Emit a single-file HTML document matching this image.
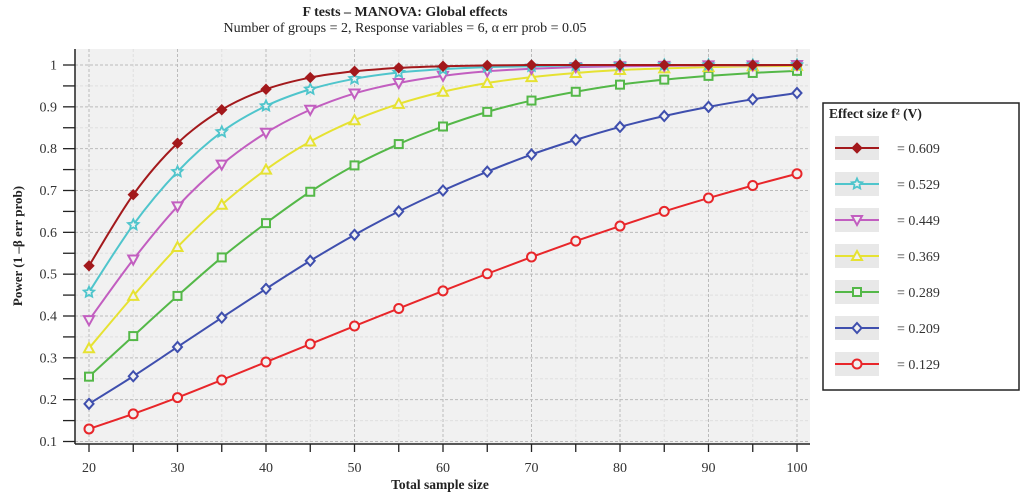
<!DOCTYPE html>
<html><head><meta charset="utf-8"><style>
html,body{margin:0;padding:0;background:#fff;}
svg text{font-family:"Liberation Serif",serif;}
</style></head><body>
<svg id="chart" width="1024" height="498" viewBox="0 0 1024 498" xmlns="http://www.w3.org/2000/svg">
<text x="405" y="16" text-anchor="middle" font-size="14" font-weight="bold" fill="#222">F tests – MANOVA: Global effects</text>
<text x="405" y="32" text-anchor="middle" font-size="14" fill="#222">Number of groups = 2, Response variables = 6, α err prob = 0.05</text>
<rect x="75" y="49" width="735" height="395" fill="#f1f1f1"/>
<g id="grid"></g>
<g id="axes"></g>
<g id="series"></g>
<text transform="translate(22,246) rotate(-90)" text-anchor="middle" font-size="13" font-weight="bold" fill="#222">Power (1 –β err prob)</text>
<text x="440" y="489" text-anchor="middle" font-size="13.5" font-weight="bold" fill="#222">Total sample size</text>
<g>
<rect x="823" y="103" width="196" height="287" fill="#fff" stroke="#222" stroke-width="1.5"/>
<text x="829" y="118" font-size="13.5" font-weight="bold" fill="#222">Effect size f² (V)</text>
<g id="legend"></g>
</g>
</svg>
<script>
const xs=[20,25,30,35,40,45,50,55,60,65,70,75,80,85,90,95,100];
const effectLabels=["= 0.609","= 0.529","= 0.449","= 0.369","= 0.289","= 0.209","= 0.129"];
const s609=[0.52,0.69,0.813,0.893,0.942,0.97,0.985,0.993,0.997,0.999,1,1,1,1,1,1,1];
const s529=[0.457,0.618,0.745,0.84,0.902,0.942,0.967,0.982,0.99,0.995,0.997,0.999,1,1,1,1,1];
const s449=[0.39,0.535,0.662,0.762,0.838,0.893,0.932,0.957,0.974,0.985,0.991,0.995,0.997,0.998,0.999,0.999,1];
const s369=[0.323,0.448,0.565,0.666,0.75,0.817,0.868,0.907,0.936,0.957,0.971,0.981,0.988,0.992,0.995,0.997,0.998];
const s289=[0.255,0.352,0.448,0.54,0.622,0.697,0.76,0.811,0.853,0.888,0.915,0.936,0.953,0.965,0.974,0.981,0.986];
const s209=[0.19,0.256,0.326,0.396,0.465,0.532,0.594,0.65,0.70,0.745,0.786,0.821,0.852,0.878,0.9,0.918,0.933];
const s129=[0.13,0.166,0.205,0.247,0.29,0.333,0.376,0.418,0.46,0.501,0.541,0.579,0.615,0.65,0.682,0.712,0.74];
const yTicks=["0.1","0.2","0.3","0.4","0.5","0.6","0.7","0.8","0.9","1"];
const xTickLabels=["20","30","40","50","60","70","80","90","100"];

const NS="http://www.w3.org/2000/svg";
const X=v=>89+(v-20)*(797-89)/80;
const Y=v=>441.5-(v-0.1)*(441.5-65)/0.9;
function mk(tag,attrs,parent){const e=document.createElementNS(NS,tag);for(const k in attrs)e.setAttribute(k,attrs[k]);parent.appendChild(e);return e;}
const grid=document.getElementById('grid'),axes=document.getElementById('axes'),ser=document.getElementById('series'),leg=document.getElementById('legend');
for(let v=20;v<=100;v+=5){const l=mk('line',{x1:X(v),x2:X(v),y1:49,y2:444,stroke:v%10===0?'#bbb':'#e0e0e0','stroke-dasharray':'3,2','stroke-width':1},grid);

}
for(let i=0;i<=18;i++){const v=0.1+i*0.05;const l=mk('line',{x1:75,x2:810,y1:Y(v),y2:Y(v),stroke:i%2===0?'#bbb':'#e0e0e0','stroke-dasharray':'3,2','stroke-width':1},grid);

}
const ya=mk('line',{x1:75,x2:75,y1:49,y2:444,stroke:'#222','stroke-width':1.5},axes);


const xa=mk('line',{x1:75,x2:810,y1:444,y2:444,stroke:'#222','stroke-width':1.5},axes);


for(let i=0;i<=18;i++){const v=0.1+i*0.05;const t=mk('line',{x1:63,x2:75,y1:Y(v),y2:Y(v),stroke:'#222','stroke-width':1.3},axes);

}
yTicks.forEach(s=>{const t=mk('text',{x:57,y:Y(parseFloat(s))+4.5,'text-anchor':'end','font-size':14,fill:'#333'},axes);t.textContent=s;

});
for(let v=20;v<=100;v+=5){const t=mk('line',{x1:X(v),x2:X(v),y1:444,y2:452,stroke:'#222','stroke-width':1.3},axes);

}
xTickLabels.forEach(s=>{const t=mk('text',{x:X(parseFloat(s)),y:472,'text-anchor':'middle','font-size':14,fill:'#333'},axes);t.textContent=s;

});
const seriesList=[s609,s529,s449,s369,s289,s209,s129];
const colors=['#a3191c','#4fc5cc','#c25ec0','#e6e232','#54b848','#3f4fae','#e8262a'];
const markers=['diamondF','star','tri-down','tri-up','square','diamond','circle'];
function marker(type,x,y,c,parent){let e;
if(type==='diamondF')e=mk('path',{d:`M${x},${y-5}L${x+5},${y}L${x},${y+5}L${x-5},${y}Z`,fill:c,stroke:c},parent);
else if(type==='diamond')e=mk('path',{d:`M${x},${y-5}L${x+4.5},${y}L${x},${y+5}L${x-4.5},${y}Z`,fill:'#f1f1f1',stroke:c,'stroke-width':2},parent);
else if(type==='circle')e=mk('circle',{cx:x,cy:y,r:4.5,fill:'#f1f1f1',stroke:c,'stroke-width':2},parent);
else if(type==='square')e=mk('rect',{x:x-4,y:y-4,width:8,height:8,fill:'#f1f1f1',stroke:c,'stroke-width':2},parent);
else if(type==='tri-up')e=mk('path',{d:`M${x},${y-5}L${x+5},${y+4}L${x-5},${y+4}Z`,fill:'#f1f1f1',stroke:c,'stroke-width':2},parent);
else if(type==='tri-down')e=mk('path',{d:`M${x},${y+5}L${x+5},${y-4}L${x-5},${y-4}Z`,fill:'#f1f1f1',stroke:c,'stroke-width':2},parent);
else{let p='';for(let i=0;i<10;i++){const r=i%2?2.6:5.5,a=-Math.PI/2+i*Math.PI/5;p+=(i?'L':'M')+(x+r*Math.cos(a)).toFixed(1)+','+(y+r*Math.sin(a)).toFixed(1);}e=mk('path',{d:p+'Z',fill:'#f1f1f1',stroke:c,'stroke-width':1.8},parent);}
return e;}
function smooth(pts){let d=`M${pts[0][0]},${pts[0][1]}`;for(let i=0;i<pts.length-1;i++){const p0=pts[i-1]||pts[i],p1=pts[i],p2=pts[i+1],p3=pts[i+2]||p2;
d+=`C${p1[0]+(p2[0]-p0[0])/6},${p1[1]+(p2[1]-p0[1])/6} ${p2[0]-(p3[0]-p1[0])/6},${p2[1]-(p3[1]-p1[1])/6} ${p2[0]},${p2[1]}`;}return d;}
for(let si=seriesList.length-1;si>=0;si--){const vals=seriesList[si];const g=mk('g',{},ser);


const pts=xs.map((x,i)=>[X(x),Y(vals[i])]);
const p=mk('path',{d:smooth(pts),fill:'none',stroke:colors[si],'stroke-width':2},g);


pts.forEach(pt=>{const m=marker(markers[si],pt[0],pt[1],colors[si],g);

});}
seriesList.forEach((vals,si)=>{
const ly=148+si*36;
const lg=mk('g',{},leg);


mk('rect',{x:835,y:ly-12,width:44,height:24,fill:'#e8e8e8'},lg);
mk('line',{x1:835,x2:879,y1:ly,y2:ly,stroke:colors[si],'stroke-width':2},lg);
marker(markers[si],857,ly,colors[si],lg);
const t=mk('text',{x:897,y:ly+5,'font-size':14,fill:'#333'},lg);t.textContent=effectLabels[si];
});
</script>
</body></html>
